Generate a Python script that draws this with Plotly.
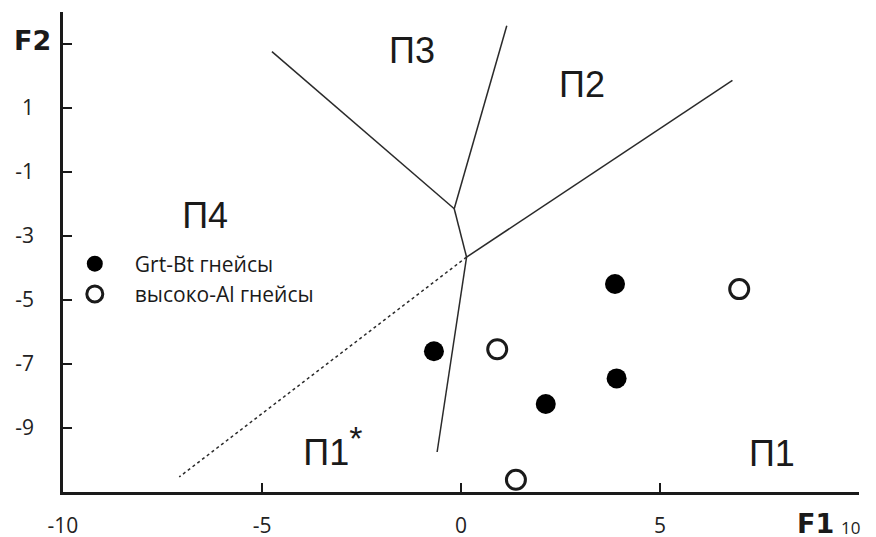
import plotly.graph_objects as go

# Discriminant scores of the two gneiss groups (F1, F2)
grt_bt_f1 = [3.87, -0.68, 3.91, 2.13]
grt_bt_f2 = [-4.50, -6.60, -7.45, -8.25]
high_al_f1 = [6.99, 0.91, 1.38]
high_al_f2 = [-4.66, -6.54, -10.62]

series_names = ["Grt-Bt гнейсы", "высоко-Al гнейсы"]

# Field boundaries: two triple junctions and the outer ends of each boundary
junction_upper = (-0.17, -2.15)
junction_lower = (0.14, -3.66)
p3_p4_end = (-4.75, 2.76)
p3_p2_end = (1.15, 3.57)
p2_p1_end = (6.82, 1.86)
p1star_p1_end = (-0.60, -9.75)
p1star_p4_end = (-7.08, -10.53)   # dotted boundary

# Field labels
field_labels = ["П3", "П2", "П4", "П1<sup><span style='font-size:34px'>*</span></sup>", "П1"]
field_x = [-1.23, 3.04, -6.43, -3.22, 7.81]
field_y = [2.68, 1.64, -2.46, -9.89, -9.91]

x_ticks = [-10, -5, 0, 5, 10]
x_ticktext = ["-10", "-5", "0", "5", ""]
y_ticks = [3, 1, -1, -3, -5, -7, -9]
y_ticktext = ["", "1", "-1", "-3", "-5", "-7", "-9"]

line_color = "#2a2a2a"
tick_font = dict(family="Open Sans", size=21, color="#222222")

fig = go.Figure()

# solid boundaries
solid_x, solid_y = [], []
for a, b in [(p3_p4_end, junction_upper), (p3_p2_end, junction_upper),
             (junction_upper, junction_lower), (junction_lower, p2_p1_end),
             (junction_lower, p1star_p1_end)]:
    solid_x += [a[0], b[0], None]
    solid_y += [a[1], b[1], None]
fig.add_trace(go.Scatter(x=solid_x, y=solid_y, mode="lines",
                         line=dict(color=line_color, width=1.5),
                         showlegend=False, hoverinfo="skip", cliponaxis=False))

fig.add_trace(go.Scatter(x=[junction_lower[0], p1star_p4_end[0]],
                         y=[junction_lower[1], p1star_p4_end[1]],
                         mode="lines", line=dict(color=line_color, width=1.5, dash="dot"),
                         showlegend=False, hoverinfo="skip"))

fig.add_trace(go.Scatter(x=field_x, y=field_y, mode="text", text=field_labels,
                         textposition="middle center",
                         textfont=dict(family="Liberation Sans", size=36, color="#1a1a1a"),
                         showlegend=False, hoverinfo="skip", cliponaxis=False))

fig.add_trace(go.Scatter(x=grt_bt_f1, y=grt_bt_f2, mode="markers", name=series_names[0],
                         legendgroup="a",
                         marker=dict(symbol="circle", size=20, color="black",
                                     line=dict(width=0)),
                         cliponaxis=False))
fig.add_trace(go.Scatter(x=high_al_f1, y=high_al_f2, mode="markers", name=series_names[1],
                         legendgroup="b",
                         marker=dict(symbol="circle-open", size=19, color="#1a1a1a",
                                     line=dict(width=3)),
                         cliponaxis=False))

axis_common = dict(showline=True, linecolor="#1a1a1a", linewidth=2.6,
                   ticks="inside", ticklen=9, tickwidth=2.4, tickcolor="#1a1a1a",
                   showgrid=False, zeroline=False, tickfont=tick_font,
                   automargin=False)

fig.update_xaxes(range=[-10, 10], tickvals=x_ticks, ticktext=x_ticktext,
                 ticklabelstandoff=13, **axis_common)
fig.update_yaxes(range=[-11, 4], tickvals=y_ticks, ticktext=y_ticktext,
                 ticklabelstandoff=22, **axis_common)

# axis titles and the last x tick label, placed in paper coordinates
title_font = dict(family="DejaVu Sans", size=27, color="#1a1a1a")
fig.add_annotation(xref="paper", yref="paper", x=-0.0377, y=0.9396, text="<b>F2</b>",
                   xanchor="center", yanchor="middle", showarrow=False, font=title_font)
fig.add_annotation(xref="paper", yref="paper", x=0.9454, y=-0.0665, text="<b>F1</b>",
                   xanchor="center", yanchor="middle", showarrow=False, font=title_font)
fig.add_annotation(xref="paper", yref="paper", x=0.9887, y=-0.0730, text="10",
                   xanchor="center", yanchor="middle", showarrow=False,
                   font=dict(family="Open Sans", size=17, color="#222222"))

fig.update_layout(
    width=876, height=537,
    margin=dict(l=63, r=17, t=12, b=45, autoexpand=False),
    paper_bgcolor="white", plot_bgcolor="white",
    showlegend=True,
    legend=dict(x=-0.0103, y=0.5177, xanchor="left", yanchor="top",
                font=dict(family="Open Sans", size=21, color="#1a1a1a"),
                itemwidth=70, tracegroupgap=0, bgcolor="rgba(0,0,0,0)"),
)

fig.write_html("out.html")
